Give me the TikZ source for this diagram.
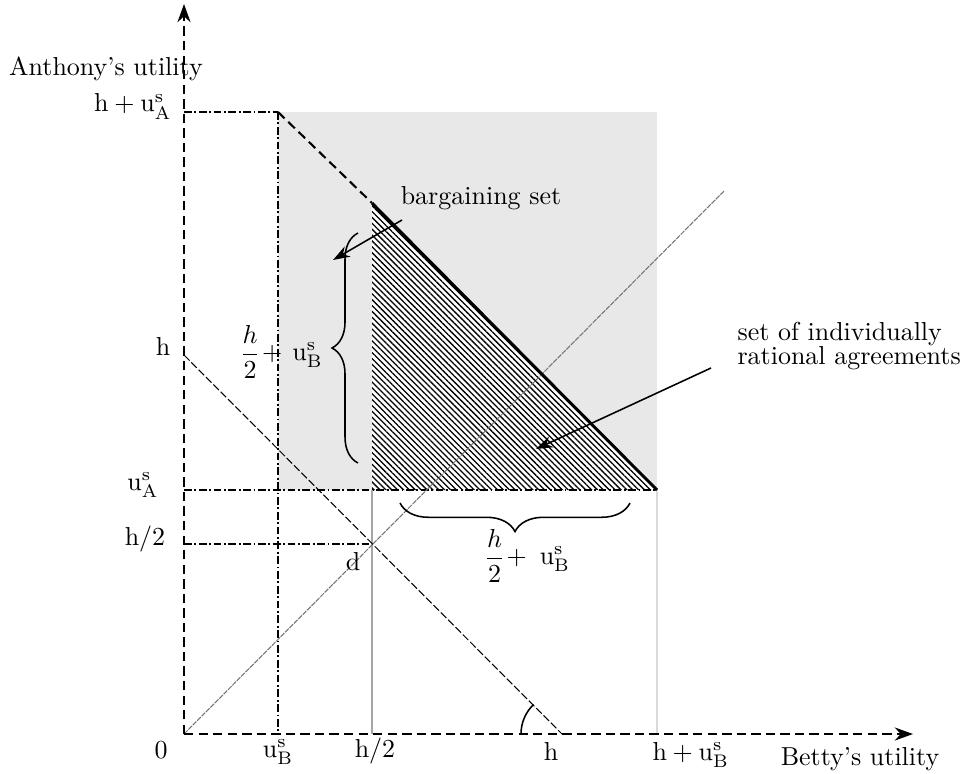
\documentclass[tikz,border=0pt]{standalone}
\usetikzlibrary{arrows.meta,patterns.meta,decorations.pathreplacing}
\definecolor{regiongray}{RGB}{232,232,232}
\begin{document}
\begin{tikzpicture}[x=0.385pt,y=-0.385pt,
  axis/.style={line width=1pt, dash pattern=on 3.6pt off 2pt, -{Stealth[length=7pt,width=5pt]}},
  dashdot/.style={line width=0.45pt, dash pattern=on 3pt off 1pt on 0.7pt off 1pt},
  lbl/.style={inner sep=0pt, anchor=base},
  annot/.style={line width=0.6pt, -{Stealth[length=6.5pt,width=4.5pt]}},
  bracestyle/.style={line width=0.6pt, decorate, decoration={brace, amplitude=#1}},
]
\useasboundingbox (0,0) rectangle (968,774);
% key points
\coordinate (O) at (184,734);
\coordinate (ytip) at (184,4);
\coordinate (xtip) at (913,734);
\coordinate (TL) at (278,112);
\coordinate (P) at (372,203);
\coordinate (Q) at (372,490);
\coordinate (R) at (657,490);
\coordinate (d) at (372,544);
% shaded region
\fill[regiongray] (278,112) rectangle (657,490);
% hatched triangle
\fill[white] (P) -- (Q) -- (R) -- cycle;
\fill[pattern={Lines[angle=-45,distance=1.6pt,line width=0.5pt]}] (P) -- (Q) -- (R) -- cycle;
% reference lines
\draw[dashdot] (184,112) -- (TL);
\draw[dashdot] (TL) -- (278,734);
\draw[dashdot] (184,490) -- (R);
\draw[dashdot] (184,544) -- (d);
\draw[black!35, line width=0.4pt] (Q) -- (372,734);
\draw[black!15, line width=0.4pt] (R) -- (657,734);
% diagonal
\draw[black!55, line width=0.4pt, dash pattern=on 2pt off 0.4pt] (O) -- (724,191);
% descending line
\draw[line width=0.4pt, dash pattern=on 3pt off 1pt] (184,355) -- (562,734);
% frontier
\draw[line width=0.8pt, dash pattern=on 3.5pt off 2pt] (TL) -- (P);
\draw[line width=1.1pt] (P) -- (R);
% angle arc
\draw[line width=0.6pt] (521,734) arc[start angle=180, end angle=226, radius=41];
% axes
\draw[axis] (O) -- (ytip);
\draw[axis] (O) -- (xtip);
% braces
\draw[bracestyle=10pt] (358,463) -- (358,233);
\draw[bracestyle=11pt] (630,503) -- (400,503);
% labels
\node[lbl] (yl) at (106,76) {Anthony's utility};
\node[lbl, anchor=base east] (hua) at (172,112) {$\mathrm{h}+\mathrm{u}^{\mathrm{s}}_{\mathrm{A}}$};
\node[lbl] (hl) at (163,355) {h};
\node[lbl] (ual) at (143,490) {$\mathrm{u}^{\mathrm{s}}_{\mathrm{A}}$};
\node[lbl] (h2l) at (145,545) {$\mathrm{h}/2$};
\node[lbl] (zero) at (161,758) {0};
\node[lbl] (ubb) at (278,757) {$\mathrm{u}^{\mathrm{s}}_{\mathrm{B}}$};
\node[lbl] (h2b) at (375,757) {$\mathrm{h}/2$};
\node[lbl] (hb) at (551,760) {h};
\node[lbl, anchor=base west] (hub) at (652,760) {$\mathrm{h}+\mathrm{u}^{\mathrm{s}}_{\mathrm{B}}$};
\node[lbl] (xl) at (860,765) {Betty's utility};
\node[lbl] (dl) at (353,570) {d};
\node[inner sep=0pt] (bv) at (281,352) {$\displaystyle\frac{h}{2}\!+\,\mathrm{u}^{\mathrm{s}}_{\mathrm{B}}$};
\node[inner sep=0pt] (bh) at (527,556) {$\displaystyle\frac{h}{2}\!+\;\mathrm{u}^{\mathrm{s}}_{\mathrm{B}}$};
\node[lbl] (bs) at (481,205) {bargaining set};
\node[inner sep=0pt, anchor=west, align=left] (ira) at (737,346) {set of individually\\[-3pt]rational agreements};
% annotation arrows
\coordinate (bstail) at (402,220);
\coordinate (bstip) at (333,260);
\coordinate (iratail) at (711,368);
\coordinate (iratip) at (536,449);
\draw[annot] (bstail) -- (bstip);
\draw[annot] (iratail) -- (iratip);
\end{tikzpicture}
\end{document}
